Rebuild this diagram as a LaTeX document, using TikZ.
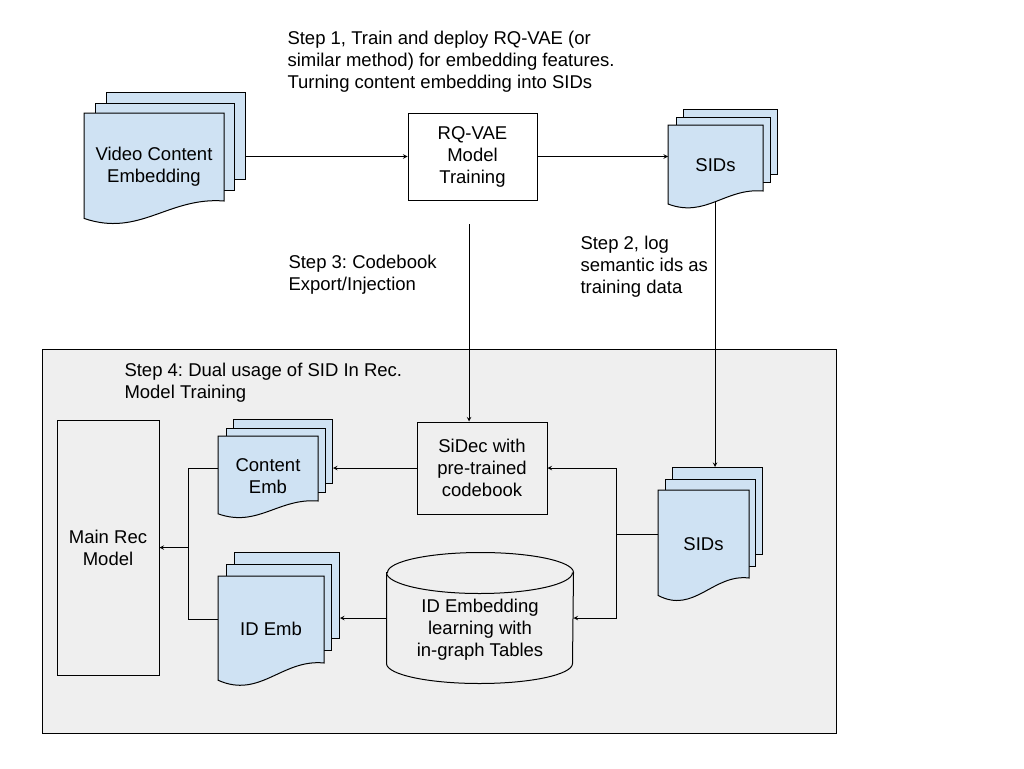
\documentclass[tikz,border=0pt]{standalone}
\usepackage{fontspec}
\setmainfont{Liberation Sans}
\usetikzlibrary{positioning,calc}
\definecolor{pageblue}{HTML}{CFE2F3}
\definecolor{panelgray}{HTML}{EFEFEF}
\frenchspacing

\begin{document}
\begin{tikzpicture}[% 	
	x=1pt,
	y=-1pt,
	every node/.append style={align=center},
	line width=1pt,
	>=stealth,
	font=\fontsize{18.5}{22}\selectfont,
	box/.style={%
		rectangle,
		fill=white,
		inner sep=0pt,
		draw
	},
	page/.style={%
		rectangle,
		fill=pageblue,
		anchor=north west,
		inner sep=0pt,
		draw
	},
	front/.style={%
		rectangle,
		anchor=north west,
		inner sep=0pt
	},
	wave/.style={%
		fill=pageblue,
		draw
	},
	note/.style={%
		align=left,
		anchor=west,
		inner sep=0pt
	}
	]

	\useasboundingbox (0,0) rectangle (1024,768);
	\node[rectangle, fill=panelgray, draw, inner sep=0pt, anchor=north west, minimum width=794pt, minimum height=384pt] (panel) at (42,349) {};

	% top row
	\node[box, minimum width=129pt, minimum height=87pt] (rq) at (472.5,156.5) {RQ-VAE\\Model\\Training};
	\node[page, minimum width=139pt, minimum height=87pt] (videob) at (106,92) {};
	\node[page, minimum width=139pt, minimum height=87pt] (videom) at (95,102.5) {};
	\node[front, minimum width=139pt, minimum height=87pt] (videof) at (84,113) {};
	\draw[wave] (videof.north west) -- (videof.north east) -- (videof.south east) .. controls +(-55.6,-4.4) and +(55.6,19.1) .. ([yshift=-17.4pt]videof.south west) -- cycle;
	\node (video) at ([yshift=-54pt]videof.north) {Video Content\\Embedding};

	\node[page, minimum width=94pt, minimum height=65pt] (sidstopb) at (683,109) {};
	\node[page, minimum width=94pt, minimum height=65pt] (sidstopm) at (675.5,117) {};
	\node[front, minimum width=94pt, minimum height=65pt] (sidstopf) at (668,125) {};
	\draw[wave] (sidstopf.north west) -- (sidstopf.north east) -- (sidstopf.south east) .. controls +(-37.6,-3.3) and +(37.6,14.3) .. ([yshift=-13pt]sidstopf.south west) -- cycle;
	\node (sidstop) at ([yshift=-40pt]sidstopf.north) {SIDs};

	\node[note] (step1) at (287,61.5) {Step 1, Train and deploy RQ-VAE (or\\similar method) for embedding features.\\Turning content embedding into SIDs};
	\node[note] (step3) at (288,275) {Step 3: Codebook\\Export/Injection};
	\node[note] (step2) at (580,267) {Step 2, log\\semantic ids as\\training data};
	\node[note] (step4) at (124,383) {Step 4: Dual usage of SID In Rec.\\Model Training};

	% panel
	\node[box, fill=panelgray, minimum width=102pt, minimum height=255pt] (mainrec) at (108,547.5) {Main Rec\\Model};
	\node[box, fill=panelgray, minimum width=130pt, minimum height=92pt] (sidec) at (482,468) {SiDec with\\pre-trained\\codebook};

	\node[page, minimum width=99pt, minimum height=64pt] (contentb) at (233,419) {};
	\node[page, minimum width=99pt, minimum height=64pt] (contentm) at (225.5,427.5) {};
	\node[front, minimum width=99pt, minimum height=64pt] (contentf) at (218,436) {};
	\draw[wave] (contentf.north west) -- (contentf.north east) -- (contentf.south east) .. controls +(-39.6,-3.2) and +(39.6,14.1) .. ([yshift=-12.8pt]contentf.south west) -- cycle;
	\node (content) at ([yshift=-39.7pt]contentf.north) {Content\\Emb};

	\node[page, minimum width=105pt, minimum height=86pt] (idembb) at (234,552) {};
	\node[page, minimum width=105pt, minimum height=86pt] (idembm) at (226,564) {};
	\node[front, minimum width=105pt, minimum height=86pt] (idembf) at (218,576) {};
	\draw[wave] (idembf.north west) -- (idembf.north east) -- (idembf.south east) .. controls +(-42,-4.3) and +(42,18.9) .. ([yshift=-17.2pt]idembf.south west) -- cycle;
	\node (idemb) at ([yshift=-53pt]idembf.north) {ID Emb};

	\node[page, minimum width=90pt, minimum height=87pt] (sidsb) at (672,467) {};
	\node[page, minimum width=90pt, minimum height=87pt] (sidsm) at (665,478.5) {};
	\node[front, minimum width=90pt, minimum height=87pt] (sidsf) at (658,490) {};
	\draw[wave] (sidsf.north west) -- (sidsf.north east) -- (sidsf.south east) .. controls +(-36,-4.4) and +(36,19.1) .. ([yshift=-17.4pt]sidsf.south west) -- cycle;
	\node (sids) at ([yshift=-54pt]sidsf.north) {SIDs};

	\node[rectangle, inner sep=0pt, minimum width=186pt, minimum height=130pt] (idlearn) at (480,618) {};
	\draw[fill=panelgray] ([yshift=-20pt]idlearn.north west) -- ([yshift=20pt]idlearn.south west) arc[start angle=180, end angle=360, x radius=93pt, y radius=20pt] -- ([yshift=-20pt]idlearn.north east) arc[start angle=0, end angle=180, x radius=93pt, y radius=20pt] -- cycle;
	\draw ([yshift=-20pt]idlearn.north west) arc[start angle=180, end angle=360, x radius=93pt, y radius=21pt];
	\node (idtext) at (480,630) {ID Embedding\\learning with\\in-graph Tables};

	% connectors
	\coordinate (s3top) at (469,224);
	\coordinate (s2top) at (715,201);
	\coordinate (rbus) at ([xshift=-42pt]sidsf.west);
	\coordinate (lbus) at ([xshift=29pt]mainrec.east);
	\draw[->] (videob.east |- rq.west) -- (rq.west);
	\draw[->] (rq.east) -- (rq.east -| sidstopf.west);
	\draw[->] (s3top) -- (s3top |- sidec.north);
	\draw[->] (s2top) -- (s2top |- sidsb.north);
	\draw (sidsf.west) -- (rbus);
	\draw[->] (rbus) |- (sidec.east);
	\draw[->] (rbus) |- (idlearn.east);
	\draw[->] (sidec.west) -- (sidec.west -| contentb.east);
	\draw[->] (idlearn.west) -- (idlearn.west -| idembb.east);
	\draw (contentf.west) -| (lbus) |- (idembf.west);
	\draw[->] (lbus) -- (mainrec.east);
\end{tikzpicture}
\end{document}
